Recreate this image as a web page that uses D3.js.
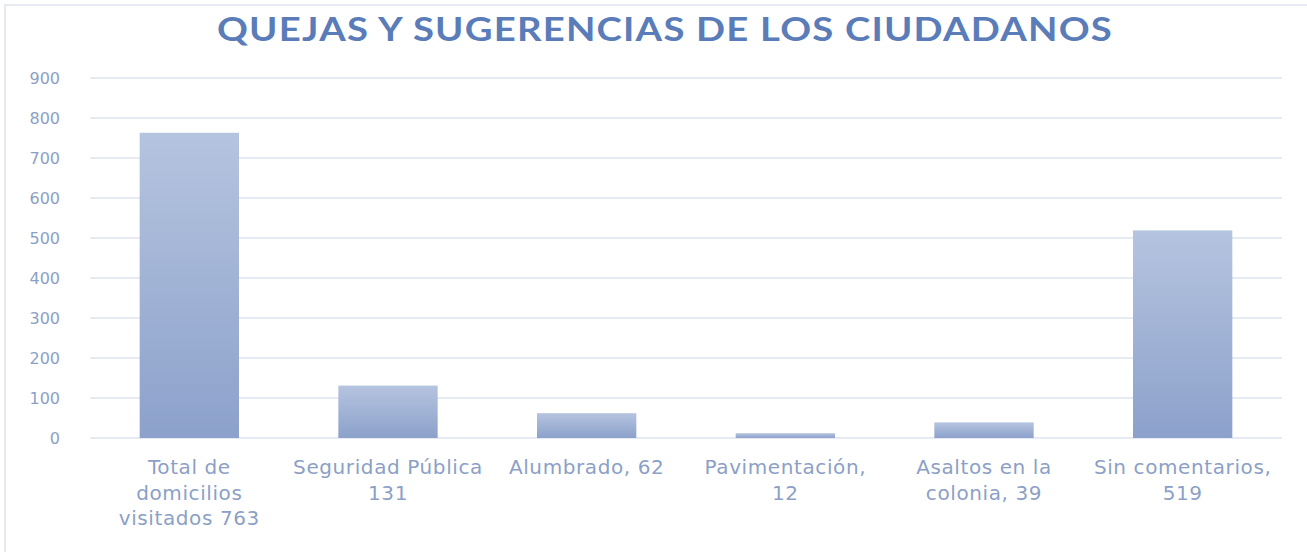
<!DOCTYPE html>
<html>
<head>
<meta charset="utf-8">
<script src="https://cdn.jsdelivr.net/npm/d3@7"></script>
<style>
  body { margin: 0; background: #fff; }
  text { font-family: "DejaVu Sans", sans-serif; }
</style>
</head>
<body>
<div id="chart"></div>
<script>
// Data
const categories = [
  ["Total de", "domicilios", "visitados 763"],
  ["Seguridad Pública", "131"],
  ["Alumbrado, 62"],
  ["Pavimentación,", "12"],
  ["Asaltos en la", "colonia, 39"],
  ["Sin comentarios,", "519"]
];
const values = [763, 131, 62, 12, 39, 519];
const yTicks = [0, 100, 200, 300, 400, 500, 600, 700, 800, 900];
const title = "QUEJAS Y SUGERENCIAS DE LOS CIUDADANOS";

const W = 1307, H = 552;
const margin = {top: 78, right: 25, bottom: 114, left: 90};
const width = W - margin.left - margin.right,
      height = H - margin.top - margin.bottom;

const root = d3.select("#chart").append("svg")
    .attr("width", W)
    .attr("height", H);

// faint outer frame
root.append("rect")
    .attr("x", 5).attr("y", 5)
    .attr("width", W + 10).attr("height", H + 10)
    .attr("fill", "none")
    .attr("stroke", "#e7eaf1")
    .attr("stroke-width", 2);

const defs = root.append("defs");
const grad = defs.append("linearGradient")
    .attr("id", "barGrad")
    .attr("x1", 0).attr("y1", 0).attr("x2", 0).attr("y2", 1);
grad.append("stop").attr("offset", "0%").attr("stop-color", "#b5c4df");
grad.append("stop").attr("offset", "100%").attr("stop-color", "#8ca1cb");

const svg = root.append("g")
    .attr("transform", `translate(${margin.left}, ${margin.top})`);

// Scales
const xScale = d3.scaleBand().domain(d3.range(values.length)).range([0, width]).paddingInner(0.5).paddingOuter(0.25);
const yScale = d3.scaleLinear().domain([0, 900]).range([height, 0]);

// Gridlines
svg.append("g")
    .selectAll("line")
    .data(yTicks)
    .join("line")
    .attr("x1", 0)
    .attr("x2", width)
    .attr("y1", d => yScale(d))
    .attr("y2", d => yScale(d))
    .attr("stroke", "#e6eaf3")
    .attr("stroke-width", 2);

// Y axis labels
const yAxis = svg.append("g")
    .call(d3.axisLeft(yScale).tickValues(yTicks).tickSize(0).tickPadding(30));
yAxis.select(".domain").remove();
yAxis.selectAll("text")
    .attr("fill", "#8c9fc6")
    .style("font-family", "'DejaVu Sans', sans-serif")
    .style("font-size", "16px");

// Bars
svg.selectAll(".bar")
    .data(values)
    .join("rect")
    .attr("class", "bar")
    .attr("x", (d, i) => xScale(i))
    .attr("y", d => yScale(d))
    .attr("width", xScale.bandwidth())
    .attr("height", d => height - yScale(d))
    .attr("fill", "url(#barGrad)");

// Category labels
const labels = svg.append("g")
    .selectAll("text")
    .data(categories)
    .join("text")
    .attr("text-anchor", "middle")
    .attr("x", (d, i) => xScale(i) + xScale.bandwidth() / 2)
    .attr("y", height + 36)
    .attr("fill", "#8c9fc6")
    .style("font-size", "20px")
    .style("letter-spacing", "0.6px");
labels.selectAll("tspan")
    .data(d => d)
    .join("tspan")
    .attr("x", function() { return this.parentNode.getAttribute("x"); })
    .attr("dy", (d, i) => i === 0 ? 0 : 25.5)
    .text(d => d);

// Title (glyphs stretched to the reference width)
root.append("text")
    .attr("x", 665)
    .attr("y", 41)
    .attr("text-anchor", "middle")
    .attr("fill", "#5a7cb8")
    .attr("textLength", 896)
    .attr("lengthAdjust", "spacingAndGlyphs")
    .style("font-family", "Lato, sans-serif")
    .style("font-size", "32px")
    .style("font-weight", "bold")
    .style("letter-spacing", "1px")
    .text(title);
</script>
</body>
</html>
